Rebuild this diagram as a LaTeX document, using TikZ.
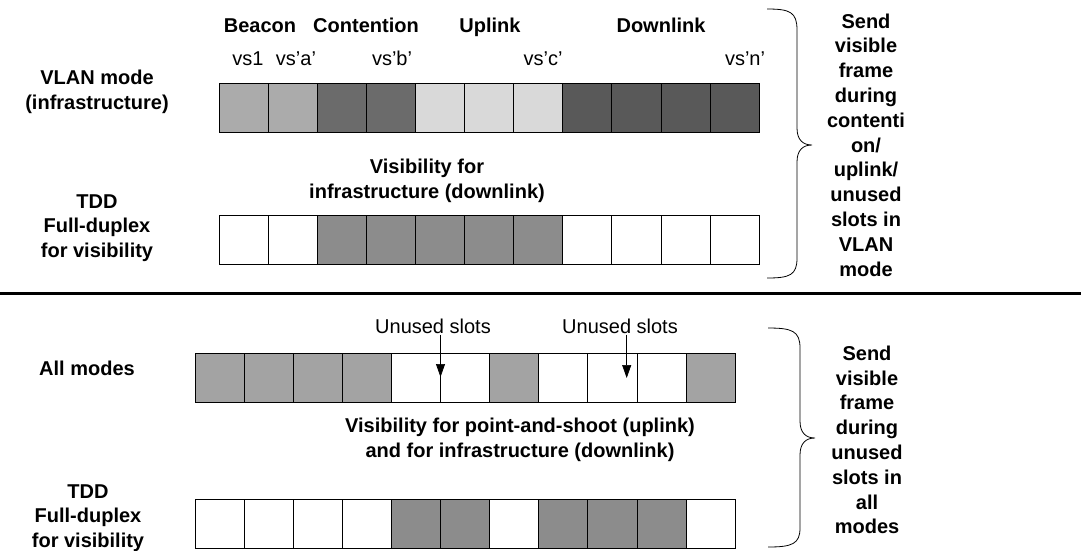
\documentclass[tikz,border=0pt]{standalone}
\usepackage{fontspec}
\setmainfont{Liberation Sans}
\usetikzlibrary{arrows.meta, positioning}
\colorlet{bcn}{black!33}
\colorlet{cnt}{black!58}
\colorlet{upl}{black!15}
\colorlet{dnl}{black!65}
\colorlet{vis}{black!45}
\colorlet{all}{black!36}
\colorlet{wht}{white}
\newcommand{\txtsize}{\fontsize{20}{24.8}\selectfont}

\begin{document}
\begin{tikzpicture}[x=1pt, y=-1pt,
  slot/.style={draw=black, line width=0.8pt, minimum width=49.1pt, minimum height=49pt,
    inner sep=0pt, outer sep=0pt, anchor=north west},
  lbl/.style={font=\txtsize\bfseries, align=center, inner sep=1pt},
  txt/.style={font=\txtsize, inner sep=1pt},
  arr/.style={line width=0.7pt, -{Triangle[width=9pt, length=13pt]}},
  brc/.style={line width=0.8pt}]
  \useasboundingbox (0,0) rectangle (1081,550);

  % VLAN mode row and TDD row (top half)
  \foreach \f [count=\i] in {bcn,bcn,cnt,cnt,upl,upl,upl,dnl,dnl,dnl,dnl}
    \node[slot, fill=\f] (a\i) at ({219+(\i-1)*49.1}, 83) {};
  \foreach \f [count=\i] in {wht,wht,vis,vis,vis,vis,vis,wht,wht,wht,wht}
    \node[slot, fill=\f] (b\i) at ({219+(\i-1)*49.1}, 215) {};

  % all modes row and TDD row (bottom half)
  \foreach \f [count=\i] in {all,all,all,all,wht,wht,all,wht,wht,wht,all}
    \node[slot, fill=\f] (c\i) at ({195+(\i-1)*49.1}, 353) {};
  \foreach \f [count=\i] in {wht,wht,wht,wht,vis,vis,wht,vis,vis,vis,wht}
    \node[slot, fill=\f] (d\i) at ({195+(\i-1)*49.1}, 499) {};

  % slot group titles
  \node[lbl, anchor=base] (beacon) at (260,32) {Beacon};
  \node[lbl, anchor=base] (content) at (366,32) {Contention};
  \node[lbl, anchor=base] (uplink) at (490,32) {Uplink};
  \node[lbl, anchor=base] (downlink) at (661,32) {Downlink};
  \node[txt, anchor=base] (vs1) at (248,65) {vs1};
  \node[txt, anchor=base] (vsa) at (296,65) {vs’a’};
  \node[txt, anchor=base] (vsb) at (392,65) {vs’b’};
  \node[txt, anchor=base] (vsc) at (543,65) {vs’c’};
  \node[txt, anchor=base] (vsn) at (745,65) {vs’n’};

  % row labels
  \node[lbl] (vlan) at (97,91.5) {VLAN mode\\(infrastructure)};
  \node[lbl] (tddtop) at (97,228) {TDD\\Full-duplex\\for visibility};
  \node[lbl] (allmodes) at (87,368) {All modes};
  \node[lbl] (tddbot) at (88,518) {TDD\\Full-duplex\\for visibility};
  \node[lbl] (vistop) at (427,181) {Visibility for\\infrastructure (downlink)};
  \node[lbl] (visbot) at (520,440) {Visibility for point-and-shoot (uplink)\\and for infrastructure (downlink)};

  % separator
  \draw[line width=3pt] (0,293) -- (1081,293);

  % unused slots
  \node[txt] (u1) at (433,326) {Unused slots};
  \node[txt] (u2) at (620,326) {Unused slots};
  \coordinate (t1) at (440.5,377);
  \coordinate (t2) at (626.7,378);
  \draw[arr] (u1.south -| t1) -- (t1);
  \draw[arr] (u2.south -| t2) -- (t2);

  % braces
  \draw[brc] (767,9) .. controls (790,9) and (797,12) .. (797,30) -- (797,128)
    .. controls (797,140) and (803,145) .. (812,145)
    .. controls (803,145) and (797,150) .. (797,162) -- (797,258)
    .. controls (797,275) and (790,278) .. (767,278);
  \draw[brc] (768,328) .. controls (792,328) and (800,331) .. (800,348) -- (800,421)
    .. controls (800,433) and (806,438) .. (815,438)
    .. controls (806,438) and (800,443) .. (800,455) -- (800,528)
    .. controls (800,544) and (792,547) .. (768,547);
  \node[lbl] (sendtop) at (866,145) {Send\\visible\\frame\\during\\contenti\\on/\\uplink/\\unused\\slots in\\VLAN\\mode};
  \node[lbl] (sendbot) at (867,440) {Send\\visible\\frame\\during\\unused\\slots in\\all\\modes};
\end{tikzpicture}
\end{document}
